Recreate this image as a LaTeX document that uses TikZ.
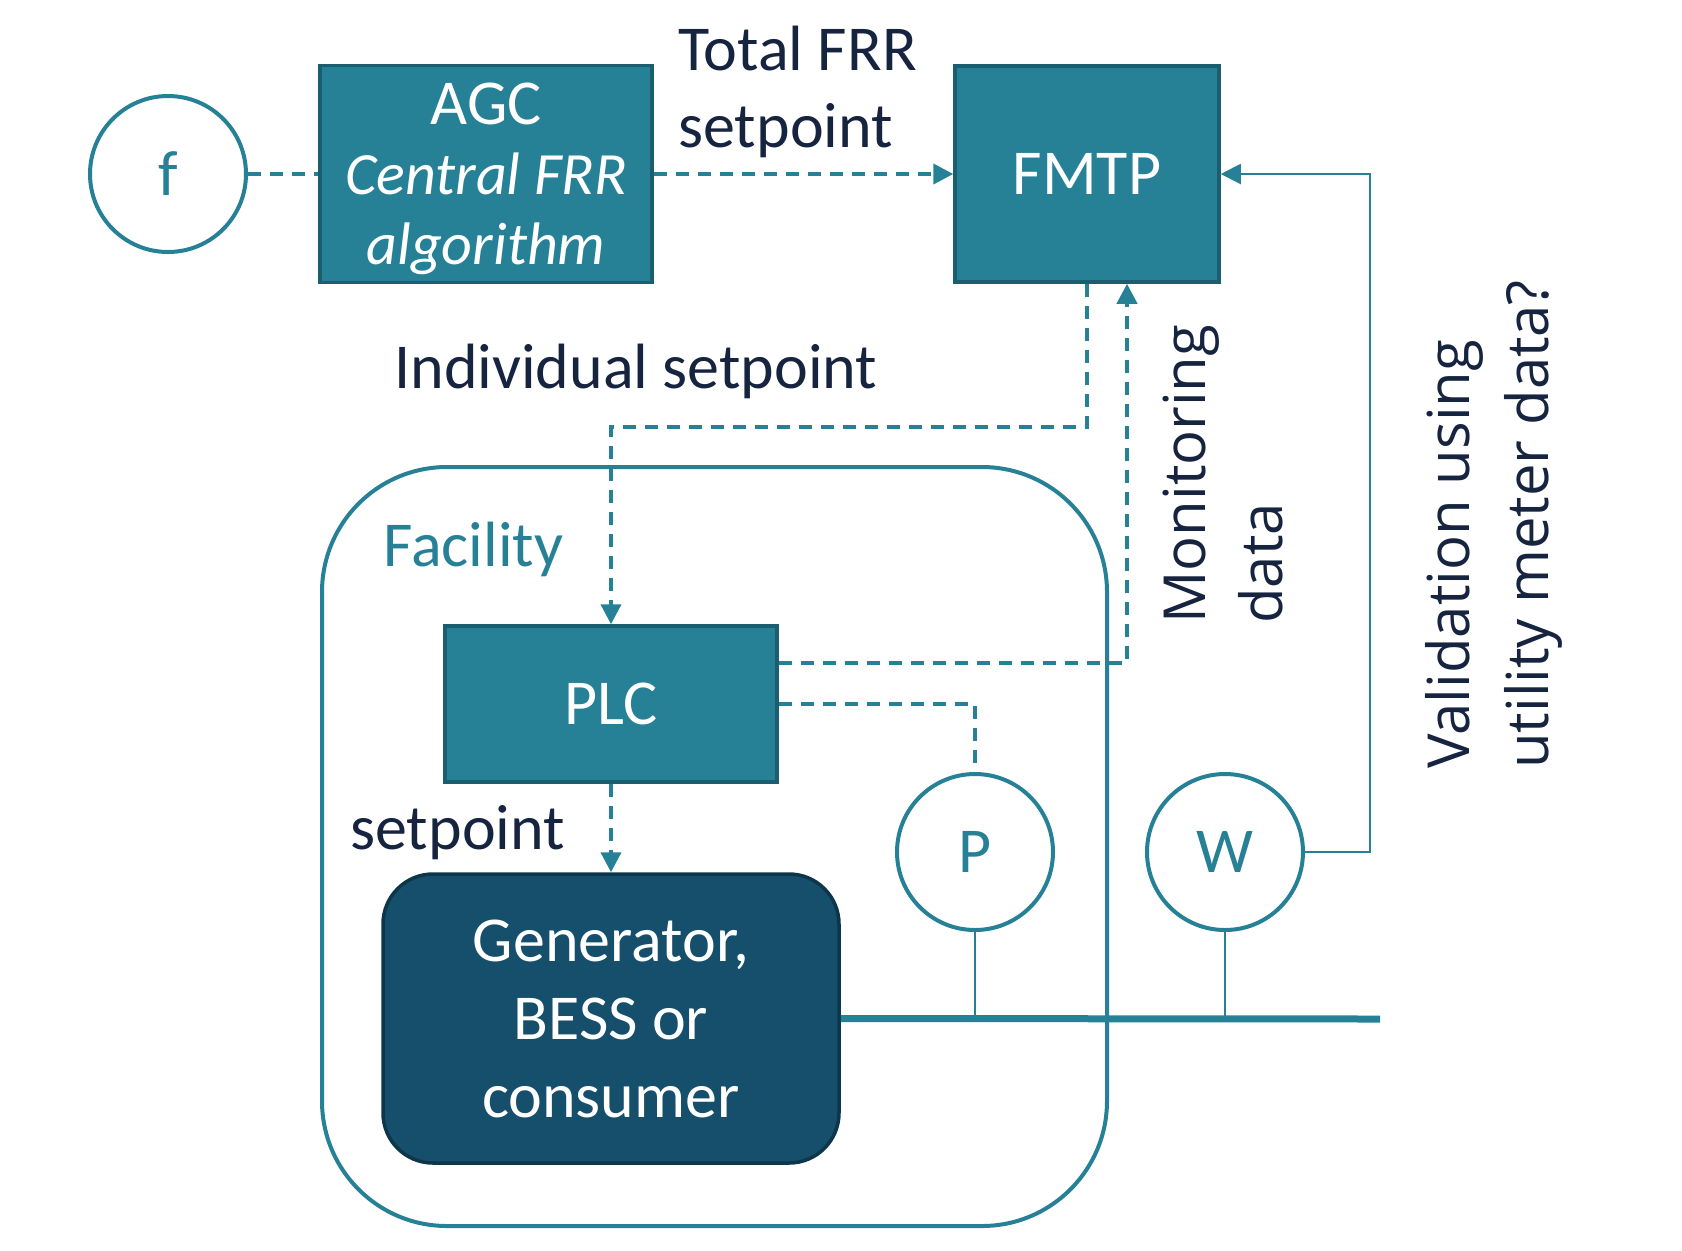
\documentclass[tikz,border=0pt]{standalone}
\usepackage{fontspec}
\setmainfont{Carlito}
\newfontfamily\opensans{Open Sans}
\usetikzlibrary{
	arrows.meta,
	positioning,
	calc,
}
\definecolor{frrteal}{RGB}{38,129,151}
\definecolor{frrtealdark}{RGB}{27,94,111}
\definecolor{frrnavy}{RGB}{21,79,107}
\definecolor{frrnavydark}{RGB}{14,54,74}
\definecolor{frrtext}{RGB}{22,36,64}
\tikzset{controller/.style={
		% The shape:
		rectangle,
		% The border:
		line width=1.75pt,
		draw=frrtealdark,
		% The filling:
		fill=frrteal,
		% make sure text is white and centred
		text=white,font=\fontsize{32}{35}\selectfont,align=center,
		inner sep=0pt,
}}
\tikzset{unit/.style={
		% The shape:
		rectangle,rounded corners=25pt,
		% The size:
		minimum width=228pt,minimum height=144.5pt,inner sep=0pt,
		% The rest
		line width=1.75pt,draw=frrnavydark,fill=frrnavy,
		text=white,font=\fontsize{32}{39}\selectfont,align=center,
}}
\tikzset{meter/.style={
		% The shape:
		circle,
		% The size:
		minimum size=78pt,inner sep=0pt,
		% The rest
		line width=2pt,draw=frrteal,fill=white,
		text=frrteal,font=\fontsize{32}{38}\selectfont,
}}
\tikzset{site/.style={
		% The shape:
		rectangle,rounded corners=62.5pt,
		% The size:
		minimum width=392.5pt,minimum height=379.5pt,inner sep=0pt,
		% The rest
		line width=2pt,draw=frrteal,
}}
\tikzset{signal text/.style={
		% anchored at the baseline of the last line
		text=frrtext,font=\fontsize{32}{38.5}\selectfont,
		align=left,inner sep=0pt,anchor=base west,
}}
\tikzset{side text/.style={
		text=frrtext,font=\opensans\fontsize{29}{38.5}\selectfont,
		align=left,inner sep=0pt,anchor=base west,rotate=90,
}}

\begin{document}
\begin{tikzpicture}[x=0.5pt,y=-0.5pt,>={Triangle[length=10pt,width=10pt]},
	dlink/.style={frrteal,line width=2pt,dash pattern=on 6.5pt off 4.5pt},
	wire/.style={frrteal,line width=1pt}]
	\useasboundingbox (0,0) rectangle (1682,1250);
	\node[site] (facility) at (714.5,846.5) {};
	\node[signal text,text=frrteal] (facilitylabel) at (383,566) {Facility};
	\node[meter] (f) at (168,174) {f};
	\node[controller,minimum width=166pt,minimum height=108.5pt,text depth=0pt] (agc) at (486,174)
		{AGC\\\fontsize{30}{35}\selectfont\itshape Central FRR\\\fontsize{30}{35}\selectfont\itshape algorithm};
	\node[controller,minimum width=132pt,minimum height=108pt] (fmtp) at (1087,174) {FMTP};
	\node[controller,minimum width=166pt,minimum height=78pt] (plc) at (611,704) {PLC};
	\node[unit] (unit) at (611,1018.5) {Generator,\\BESS or\\consumer};
	\node[meter] (p) at (975,852) {P};
	\node[meter] (w) at (1225,852) {W};
	\coordinate (grid) at (1380,1019);
	% labels
	\node[signal text] (total) at (678,147) {Total FRR\\setpoint};
	\node[signal text] (individual) at (394,388) {Individual setpoint};
	\node[signal text] (local) at (350,849) {setpoint};
	\node[side text] (monitoring) at (1282,624) {Monitoring\\data};
	\node[side text,font=\opensans\fontsize{29}{39.5}\selectfont] (validation) at (1548,769) {Validation using\\utility meter data?};
	% connectors
	\draw [dlink] (f) -- (agc);
	\draw [dlink,->] (agc) -- (fmtp);
	\draw [dlink,->] (fmtp.south) -- ++(0,143) -| (plc.north);
	\draw [dlink,->] ([yshift=20.5pt]plc.east) -| ([xshift=20pt]fmtp.south);
	\draw [dlink] (plc.east) -| (p.north);
	\draw [dlink,->] (plc) -- (unit);
	\draw [wire,->] (w.east) -- ++(65,0) |- (fmtp.east);
	\draw [frrteal,line width=3.5pt] (unit.east) -- (grid);
	\draw [wire] (p.south) -- (p.south |- grid);
	\draw [wire] (w.south) -- (w.south |- grid);
\end{tikzpicture}
\end{document}
